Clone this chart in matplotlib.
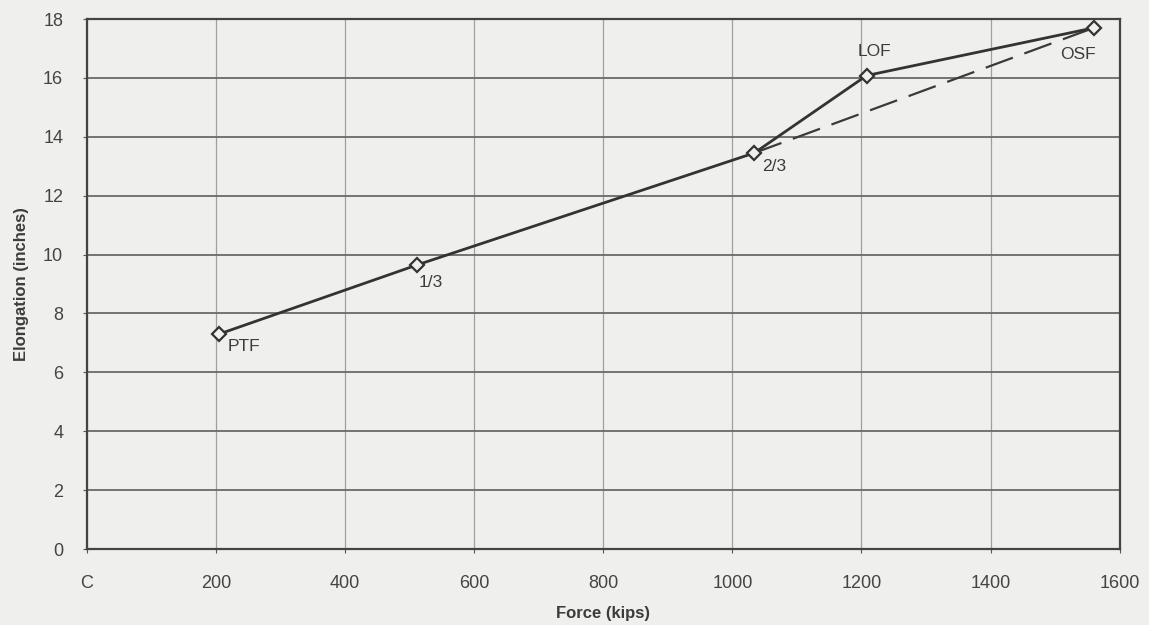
import matplotlib.pyplot as plt

force = [205, 512, 1034, 1208, 1560]
elongation = [7.3, 9.65, 13.45, 16.08, 17.7]
labels = ['PTF', '1/3', '2/3', 'LOF', 'OSF']
# offsets of the labels from their points (pixels)
label_offsets = [(9, -12, 'left'), (1, -18, 'left'), (8, -14, 'left'), (-9, 24, 'left'), (2, -27, 'right')]

dash_force = [force[2], force[4]]
dash_elong = [elongation[2], elongation[4]]

plt.rcParams['font.family'] = ['Liberation Sans', 'DejaVu Sans']
bg = '#efefed'

fig = plt.figure(figsize=(11.49, 6.25), dpi=100, facecolor=bg)
ax = fig.add_axes([0.0755, 0.1216, 0.8990, 0.848], facecolor=bg)

ax.plot(dash_force, dash_elong, color='#3a3a3a', lw=1.6, dashes=(13, 5.5))
ax.plot(force, elongation, color='#333333', lw=2.0, marker='D', markersize=7,
        markerfacecolor=bg, markeredgecolor='#333333', markeredgewidth=1.6, zorder=3)

for x, y, txt, (dx, dy, ha) in zip(force, elongation, labels, label_offsets):
    ax.annotate(txt, (x, y), xytext=(dx, dy), textcoords='offset pixels',
                ha=ha, va='center', fontsize=12.5, color='#3c3c3c')

ax.set_xlim(0, 1600)
ax.set_ylim(0, 18)
ax.set_xticks(range(0, 1601, 200))
ax.set_xticklabels(['C'] + [str(v) for v in range(200, 1601, 200)])
ax.set_yticks(range(0, 19, 2))

ax.grid(axis='y', color='#6a6a6a', lw=1.3)
ax.grid(axis='x', color='#a0a0a0', lw=0.9)
ax.set_axisbelow(True)
for s in ax.spines.values():
    s.set_color('#444444')
    s.set_linewidth(1.6)

ax.tick_params(axis='both', length=3, color='#555555', labelsize=13, labelcolor='#444444')
ax.tick_params(axis='x', pad=16)
ax.tick_params(axis='y', pad=14)
ax.set_xlabel('Force (kips)', fontsize=12, fontweight='bold', color='#3c3c3c', labelpad=10)
ax.set_ylabel('Elongation (inches)', fontsize=12, fontweight='bold', color='#3c3c3c', labelpad=10)

fig.savefig('out.png', dpi=100, facecolor=bg)
